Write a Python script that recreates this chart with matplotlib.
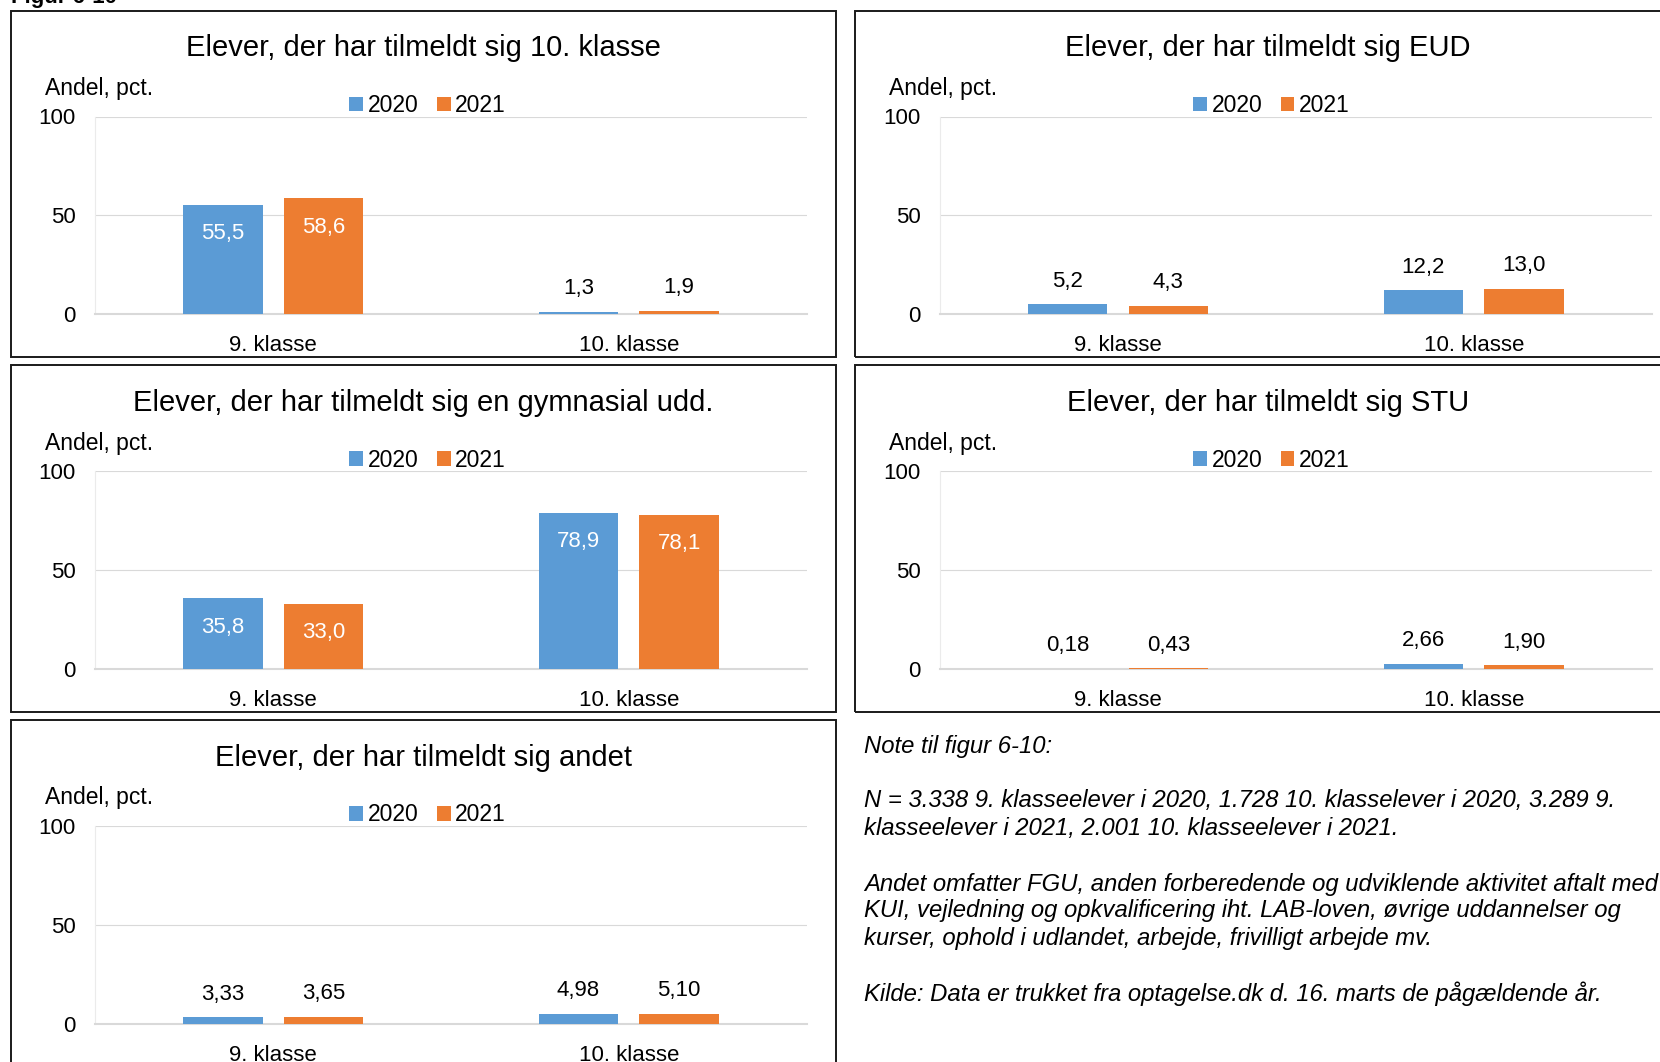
import matplotlib
matplotlib.use("Agg")
import matplotlib.pyplot as plt
from matplotlib.patches import Rectangle

plt.rcParams['font.family'] = ['Liberation Sans', 'DejaVu Sans']

# data
categories = ["9. klasse", "10. klasse"]
years = ["2020", "2021"]
titles = [
    "Elever, der har tilmeldt sig 10. klasse",
    "Elever, der har tilmeldt sig EUD",
    "Elever, der har tilmeldt sig en gymnasial udd.",
    "Elever, der har tilmeldt sig STU",
    "Elever, der har tilmeldt sig andet",
]
v2020 = [[55.5, 1.3], [5.2, 12.2], [35.8, 78.9], [0.18, 2.66], [3.33, 4.98]]
v2021 = [[58.6, 1.9], [4.3, 13.0], [33.0, 78.1], [0.43, 1.90], [3.65, 5.10]]
decimals = [1, 1, 1, 2, 2]
yticks = [0, 50, 100]
notes = [
    "Note til figur 6-10:",
    "N = 3.338 9. klasseelever i 2020, 1.728 10. klasselever i 2020, 3.289 9.",
    "klasseelever i 2021, 2.001 10. klasseelever i 2021.",
    "Andet omfatter FGU, anden forberedende og udviklende aktivitet aftalt med",
    "KUI, vejledning og opkvalificering iht. LAB-loven, øvrige uddannelser og",
    "kurser, ophold i udlandet, arbejde, frivilligt arbejde mv.",
    "Kilde: Data er trukket fra optagelse.dk d. 16. marts de pågældende år.",
]
note_y = [746, 801, 829, 884, 911, 939, 994]

blue = "#5B9BD5"
orange = "#ED7D31"
grid = "#D9D9D9"

W, H = 1660, 1062
fig = plt.figure(figsize=(W / 100, H / 100), dpi=100)


def fx(x):
    return x / W


def fy(y):
    return 1 - y / H


# panel layout in pixels
panel_x = [(10.6, 836.3), (855.4, 1681)]
plot_x = [(95.3, 806.7), (940.1, 1651.6)]
row_step = 354.7
bw = 0.223
off = 0.1414

fig.text(fx(10.6), fy(3), "Figur 6-10", fontsize=16, fontweight="bold", va="baseline", ha="left")

for i, title in enumerate(titles):
    col = i % 2
    row = i // 2
    dy = row * row_step
    top = 10.6 + dy
    bottom = 356.8 + dy if row < 2 else 1080
    px0, px1 = panel_x[col]
    fig.patches.append(Rectangle((fx(px0), fy(bottom)), fx(px1 - px0), (bottom - top) / H,
                                 transform=fig.transFigure, fill=False, edgecolor="#1a1a1a",
                                 linewidth=1.4, zorder=0))

    x0, x1 = plot_x[col]
    ytop = 116.5 + dy
    ybot = 314.4 + dy
    ax = fig.add_axes([fx(x0), fy(ybot), fx(x1 - x0), (ybot - ytop) / H])
    pos = [0, 1]
    b1 = ax.bar([p - off for p in pos], v2020[i], bw, color=blue, label=years[0], zorder=3)
    b2 = ax.bar([p + off for p in pos], v2021[i], bw, color=orange, label=years[1], zorder=3)
    for bars, vals in ((b1, v2020[i]), (b2, v2021[i])):
        for b, v in zip(bars, vals):
            lab = f"{v:.{decimals[i]}f}".replace(".", ",")
            cx = b.get_x() + b.get_width() / 2
            if v > 20:
                ax.annotate(lab, (cx, v), xytext=(0, -29), textcoords="offset pixels",
                            ha="center", va="center", color="white", fontsize=16)
            else:
                ax.annotate(lab, (cx, v), xytext=(0, 23), textcoords="offset pixels",
                            ha="center", va="center", color="black", fontsize=16)
    ax.set_xlim(-0.5, 1.5)
    ax.set_ylim(0, 100)
    ax.set_yticks(yticks)
    ax.set_xticks(pos)
    ax.set_xticklabels(categories)
    ax.tick_params(axis="y", length=0, pad=14, labelsize=16)
    ax.tick_params(axis="x", length=0, pad=15, labelsize=16)
    ax.grid(axis="y", color=grid, linewidth=0.8, zorder=0)
    ax.set_axisbelow(True)
    for s in ("top", "right"):
        ax.spines[s].set_visible(False)
    ax.spines["left"].set_color("#EBEBEB")
    ax.spines["bottom"].set_color(grid)
    ax.spines["bottom"].set_linewidth(1.5)
    ax.set_facecolor("none")

    cx_title = (px0 + px1) / 2
    fig.text(fx(cx_title), fy(48.5 + dy), title, fontsize=21, ha="center", va="center")
    fig.text(fx(px0 + 34), fy(88.5 + dy), "Andel, pct.", fontsize=16.5, ha="left", va="center")
    leg_x = 427.7 if col == 0 else 1271.5
    ax.legend(loc="center", bbox_to_anchor=(fx(leg_x), fy(105.5 + dy)), bbox_transform=fig.transFigure,
              ncol=2, frameon=False, fontsize=16.5, handlelength=0.6, handleheight=0.6,
              handletextpad=0.2, columnspacing=0.8, borderpad=0)

for t, y in zip(notes, note_y):
    fig.text(fx(864), fy(y), t, fontsize=17.2, style="italic", ha="left", va="center")

fig.savefig("out.png", dpi=100)
